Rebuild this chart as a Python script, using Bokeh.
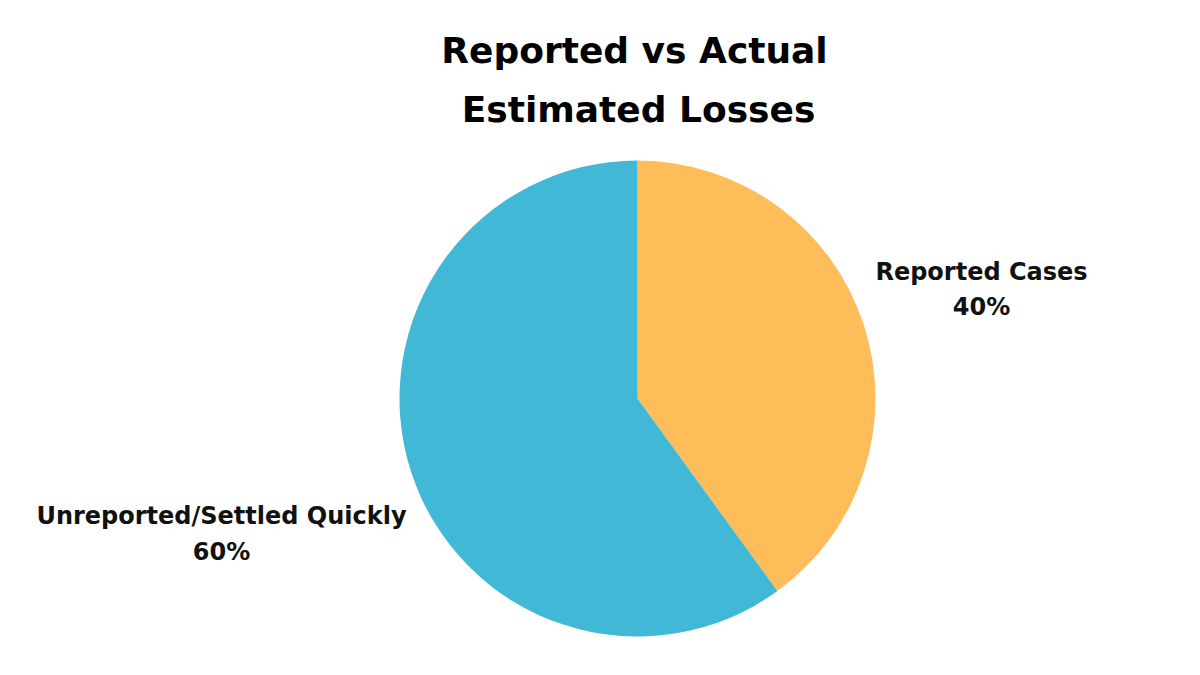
import numpy as np
from bokeh.plotting import figure
from bokeh.models import Range1d, ColumnDataSource
from bokeh.core.properties import value
from bokeh.embed import file_html
from bokeh.resources import INLINE

# Data
categories = ["Reported Cases", "Unreported/Settled Quickly"]
shares = [40, 60]
colors = ["#FFBD59", "#41B8D5"]
title_lines = ["Reported vs Actual", "Estimated Losses"]

W, H = 1184, 659
# data coordinates: x = screen x, y = 675 - screen y
p = figure(width=W, height=H, output_backend="svg", toolbar_location=None,
           x_range=Range1d(0, W), y_range=Range1d(675 - H, 675),
           min_border=0, outline_line_color=None)
p.axis.visible = False
p.grid.visible = False
p.background_fill_color = "white"
p.border_fill_color = "white"

FONT = value("DejaVu Sans")

# Pie geometry (layout)
cx, cy, r = 637, 675 - 398, 238

vals = np.array(shares, dtype=float)
frac = vals / vals.sum()
cum = np.concatenate([[0], np.cumsum(frac)])
# clockwise from 12 o'clock
ends = np.pi / 2 - cum[:-1] * 2 * np.pi
starts = np.pi / 2 - cum[1:] * 2 * np.pi

src = ColumnDataSource(dict(start=starts, end=ends, color=colors))
p.wedge(x=cx, y=cy, radius=r, start_angle="start", end_angle="end",
        fill_color="color", line_color=None, source=src)

# Labels (baselines)
label_pos = [(981, 675 - 271, 675 - 306), (221, 675 - 515, 675 - 551)]
lx, ly, txt = [], [], []
for (x, y1, y2), c, s in zip(label_pos, categories, shares):
    lx += [x, x]
    ly += [y1, y2]
    txt += [c, f"{s}%"]
p.text(x=lx, y=ly, text=txt, text_align="center", text_baseline="alphabetic",
       text_font=FONT, text_font_style="bold",
       text_font_size="24px", text_color="#111111")

# Title
p.text(x=[634, 638], y=[675 - 50, 675 - 109], text=title_lines,
       text_align="center", text_baseline="alphabetic",
       text_font=FONT, text_font_style="bold",
       text_font_size="36px", text_color="#000000")

open("out.html", "w").write(file_html(p, INLINE))
